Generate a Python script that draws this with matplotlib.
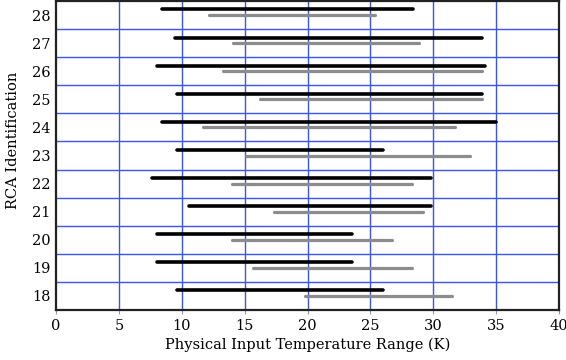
import matplotlib
matplotlib.use("Agg")
import matplotlib.pyplot as plt

# RCA ids and temperature ranges (K)
rca_ids = [18, 19, 20, 21, 22, 23, 24, 25, 26, 27, 28]
black_lo = [9.6, 8.0, 8.0, 10.6, 7.6, 9.6, 8.4, 9.6, 8.0, 9.5, 8.4]
black_hi = [26.0, 23.5, 23.5, 29.8, 29.8, 26.0, 35.0, 33.9, 34.1, 33.9, 28.4]
gray_lo = [19.8, 15.7, 14.0, 17.3, 14.0, 15.1, 11.7, 16.2, 13.3, 14.1, 12.2]
gray_hi = [31.5, 28.3, 26.7, 29.2, 28.3, 32.9, 31.7, 33.9, 33.9, 28.9, 25.4]

plt.rcParams['font.family'] = ['DejaVu Serif']

fig = plt.figure(figsize=(5.66, 3.6), dpi=100)
ax = fig.add_axes([56 / 566, 50 / 360, 503 / 566, 309 / 360])

for r, a, b in zip(rca_ids, black_lo, black_hi):
    ax.plot([a, b], [r + 0.2, r + 0.2], color='black', lw=2.6,
            solid_capstyle='round', zorder=3)
for r, a, b in zip(rca_ids, gray_lo, gray_hi):
    ax.plot([a, b], [r, r], color='#8c8c8c', lw=2.3,
            solid_capstyle='round', zorder=3)

# grid
for x in range(5, 40, 5):
    ax.axvline(x, color='#3a55e6', lw=1.0, zorder=1)
for r in rca_ids[:-1]:
    ax.axhline(r + 0.5, color='#3a55e6', lw=1.0, zorder=1)

ax.set_xlim(0, 40)
ax.set_ylim(17.5, 28.5)
ax.set_xticks(range(0, 41, 5))
ax.set_yticks(rca_ids)
ax.tick_params(axis='y', length=0, labelsize=10.5, pad=4)
ax.tick_params(axis='x', length=3, direction='out', labelsize=10.5,
               color='#999999')
for s in ax.spines.values():
    s.set_linewidth(1.6)
    s.set_color('#222222')

ax.set_xlabel('Physical Input Temperature Range (K)', fontsize=10.5,
              labelpad=3)
ax.set_ylabel('RCA Identification', fontsize=10.5)
ax.yaxis.set_label_coords(-0.072, 0.55)

fig.savefig('out.png', dpi=100)
